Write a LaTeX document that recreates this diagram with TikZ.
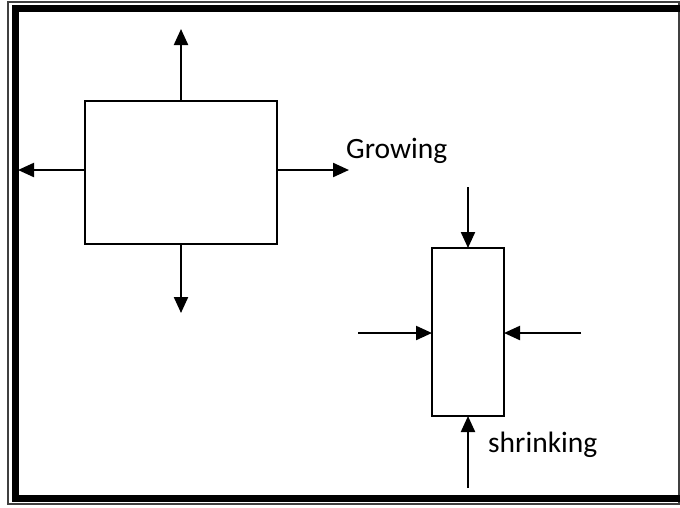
\documentclass[tikz,border=0pt]{standalone}
\usepackage{fontspec}
\setmainfont{Carlito}
\usetikzlibrary{arrows.meta}

\begin{document}
\begin{tikzpicture}[x=1pt, y=-1pt,
	box/.style={draw, line width=1.5pt, inner sep=0pt, outer sep=0pt},
	push/.style={-{Triangle[length=16pt,width=14pt]}, line width=2.2pt},
	note/.style={anchor=base west, inner sep=0pt, font=\fontsize{29.5}{34}\selectfont}]

\useasboundingbox (0,0) rectangle (680,507);

% frame
\draw[line width=1.2pt, black!75] (8,2) -- (679,2) -- (679,504) -- (8,504) -- cycle;
\draw[line width=7pt] (684,8.5) -- (15.5,8.5) -- (15.5,498) -- (684,498);

% growing box
\node[box, minimum width=192pt, minimum height=143pt](grow) at (181,172.5){};
\coordinate (gup) at (181,29);
\coordinate (gdown) at (181,313);
\coordinate (gleft) at (18,170);
\coordinate (gright) at (349,170);

\draw[push] (grow.north) -- (gup);
\draw[push] (grow.south) -- (gdown);
\draw[push] (grow.west |- gleft) -- (gleft);
\draw[push] (grow.east |- gright) -- (gright);

\node[note](growlbl) at (346,158){Growing};

% shrinking box
\node[box, minimum width=72pt, minimum height=168pt](shrink) at (468,332){};
\coordinate (stop) at (468,187);
\coordinate (sbottom) at (468,488);
\coordinate (sleft) at (358,333);
\coordinate (sright) at (581,333);

\draw[push] (stop) -- (shrink.north);
\draw[push] (sbottom) -- (shrink.south);
\draw[push] (sleft) -- (shrink.west |- sleft);
\draw[push] (sright) -- (shrink.east |- sright);

\node[note](shrinklbl) at (488,452){shrinking};
\end{tikzpicture}
\end{document}
